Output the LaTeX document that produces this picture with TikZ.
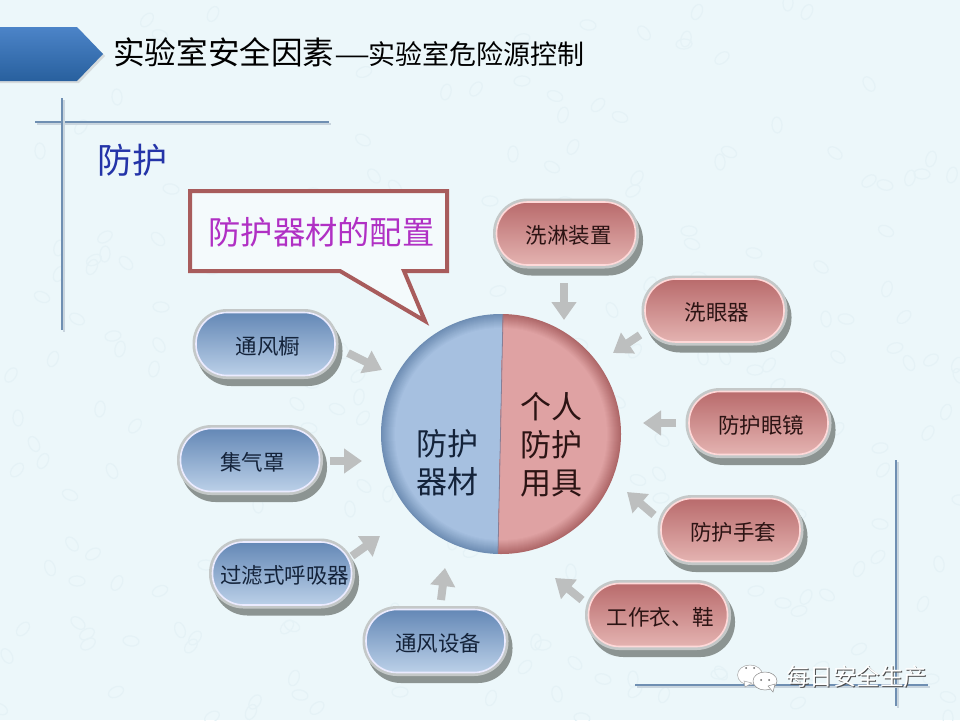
\documentclass[tikz,border=0pt]{standalone}
\usepackage{graphicx}
\usepackage{fontspec}
\setmainfont{Noto Sans CJK SC}
\usetikzlibrary{arrows.meta}
\definecolor{bgc}{HTML}{ECF7FA}
\definecolor{texc}{HTML}{E5F2F6}
\definecolor{rulec}{HTML}{6F8FB2}
\definecolor{ruleshadow}{HTML}{C9D5DE}
\definecolor{shadowc}{HTML}{8C9492}
\definecolor{ringc}{HTML}{C4C8C8}
\definecolor{redtop}{HTML}{B96B6C}
\definecolor{redbot}{HTML}{E4B3B1}
\definecolor{bluetop}{HTML}{6488B6}
\definecolor{bluebot}{HTML}{BBD0E8}
\definecolor{arrowc}{HTML}{BDBFBF}
\definecolor{calloutc}{HTML}{A85C5C}
\definecolor{redtxt}{HTML}{2C1414}
\definecolor{bluetxt}{HTML}{14233A}
\definecolor{headtop}{HTML}{4C84C8}
\definecolor{headbot}{HTML}{28609E}
\definecolor{purplec}{HTML}{B030C4}
\definecolor{navyc}{HTML}{2434A8}
\definecolor{discBa}{HTML}{A6C0E0}
\definecolor{discBd}{HTML}{6E8DB3}
\definecolor{discRa}{HTML}{DFA2A3}
\definecolor{discRd}{HTML}{AE6768}
\tikzset{
  x=1pt,y=-1pt,
  pill/.style={rectangle,rounded corners=31pt,minimum width=139pt,minimum height=63pt,inner sep=0pt,
    font=\fontsize{21.5pt}{24pt}\selectfont,text height=20pt,text depth=0pt,
    preaction={draw=shadowc,fill=shadowc,line width=7pt,transform canvas={shift={(4pt,-7pt)}}},
    preaction={draw=ringc,line width=7pt}},
  redpill/.style={pill,draw=white!85!red,line width=1.6pt,top color=redtop,bottom color=redbot,text=redtxt},
  bluepill/.style={pill,draw=white!92!blue,line width=1.6pt,top color=bluetop,bottom color=bluebot,text=bluetxt},
  blockarrow/.style={draw=arrowc,line width=8pt,-{Triangle[length=18pt,width=24pt,fill=arrowc]}},
  ruleline/.style={draw=rulec,line width=2pt,preaction={draw=ruleshadow,line width=2.5pt,transform canvas={shift={(2pt,-2pt)}}}},
  disctext/.style={font=\fontsize{31pt}{38pt}\selectfont,align=center,inner sep=0pt},
  wmtext/.style={font=\fontsize{23.5pt}{26pt}\selectfont,inner sep=0pt,anchor=west},
}
\newcommand{\pilltxt}[1]{\hspace*{5pt}#1}
\begin{document}
\begin{tikzpicture}
\useasboundingbox (0,0) rectangle (960,720);
\fill[bgc] (0,0) rectangle (960,720);
% faint paper texture
\pgfmathsetseed{7}
\foreach \i in {1,...,220} {
  \pgfmathsetmacro{\tx}{random(0,960)}
  \pgfmathsetmacro{\ty}{random(0,720)}
  \pgfmathsetmacro{\ta}{random(0,180)}
  \draw[texc,line width=1.2pt,rotate around={\ta:(\tx,\ty)}] (\tx,\ty) ellipse[x radius=8,y radius=5];
}
% header
\fill[black!25,opacity=.5] (0,29) -- (79,29) -- (105,56) -- (79,83) -- (0,83) -- cycle;
\shade[top color=headtop,bottom color=headbot] (0,27) -- (77,27) -- (103,54) -- (77,81) -- (0,81) -- cycle;
\node[anchor=base west,inner sep=0pt,text=black] (title) at (113,64) {\fontsize{31.6pt}{34pt}\selectfont 实验室安全因素\fontsize{27pt}{30pt}\selectfont\scalebox{1.5}[1]{—}\hspace{-2pt}实验室危险源控制};
% rules
\path[ruleline] (35,122) -- (329,122);
\path[ruleline] (62,98) -- (62,330);
\path[ruleline] (896,460) -- (896,706);
\path[ruleline] (635,685) -- (928,685);
\node[anchor=west,inner sep=0pt,text=navyc,font=\fontsize{35pt}{38pt}\selectfont] (heading) at (97,160) {防护};
% callout
\draw[calloutc,line width=4pt,fill=bgc!60!white,miter limit=10] (190,191) -- (447,191) -- (447,271) -- (404,271) -- (425,321) -- (340,271) -- (190,271) -- cycle;
\node[text=purplec,font=\fontsize{32.3pt}{36pt}\selectfont,inner sep=0pt] (callouttext) at (321.500,232) {防护器材的配置};
% disc: nested circles give the darker rim
\begin{scope}
\clip (503,310) -- (498,558) -- (370,558) -- (370,310) -- cycle;
\foreach \r in {0,...,14} {
  \pgfmathtruncatemacro{\mix}{100-100*\r/14}
  \fill[discBd!\mix!discBa] (501,434) circle[radius=120-\r];
}
\end{scope}
\begin{scope}
\clip (503,310) -- (498,558) -- (630,558) -- (630,310) -- cycle;
\foreach \r in {0,...,14} {
  \pgfmathtruncatemacro{\mix}{100-100*\r/14}
  \fill[discRd!\mix!discRa] (501,434) circle[radius=120-\r];
}
\end{scope}
\draw[discBd!60!discRd,line width=.8pt] (503,315) -- (498,553);
\node[disctext,text=bluetxt] (discleft) at (447.500,463) {防护\\器材};
\node[disctext,text=redtxt] (discright) at (551,445) {个人\\防护\\用具};
% pills
\node[redpill] (p1) at (566,233.500) {\pilltxt{洗淋装置}};
\node[redpill] (p2) at (714.500,310.500) {\pilltxt{洗眼器}};
\node[redpill] (p3) at (758.500,423) {\pilltxt{防护眼镜}};
\node[redpill] (p4) at (730.500,530) {\pilltxt{防护手套}};
\node[redpill] (p5) at (658,615) {\pilltxt{工作衣、鞋}};
\node[bluepill] (p6) at (435.500,641) {\pilltxt{通风设备}};
\node[bluepill] (p7) at (282,573.500) {\pilltxt{过滤式呼吸器}};
\node[bluepill] (p8) at (250,460) {\pilltxt{集气罩}};
\node[bluepill] (p9) at (265.500,344) {\pilltxt{通风橱}};
% arrows
\coordinate (a1s) at (564,283); \coordinate (a1e) at (564,320);
\coordinate (a2s) at (640,335); \coordinate (a2e) at (613,353);
\coordinate (a3s) at (676,423); \coordinate (a3e) at (643,423);
\coordinate (a4s) at (654,515); \coordinate (a4e) at (627,492);
\coordinate (a5s) at (582,600); \coordinate (a5e) at (555,578);
\coordinate (a6s) at (441,600); \coordinate (a6e) at (445,568);
\coordinate (a7s) at (352,556); \coordinate (a7e) at (380,536);
\coordinate (a8s) at (330,461); \coordinate (a8e) at (362,461);
\coordinate (a9s) at (348,353); \coordinate (a9e) at (382,370);
\foreach \i in {1,...,9} {\draw[blockarrow] (a\i s) -- (a\i e);}
% watermark
\begin{scope}
\fill[white,draw=black!35,line width=.5pt] (750,675) ellipse[x radius=12.5,y radius=10];
\fill[white,draw=black!35,line width=.5pt] (745,687) -- (744,681) -- (752,683) -- cycle;
\fill[white,draw=black!45,line width=.5pt] (765,681) ellipse[x radius=12,y radius=9];
\fill[white,draw=black!45,line width=.5pt] (773,692) -- (768,686) -- (775,684) -- cycle;
\fill[black!60] (746,668) circle[radius=1] (754,668) circle[radius=1] (761,680) circle[radius=1] (769,680) circle[radius=1];
\end{scope}
\node[wmtext,text=black!70] (wmshadow) at (787,678) {每日安全生产};
\node[wmtext,text=white] (wm) at (786,677) {每日安全生产};
\end{tikzpicture}
\end{document}
